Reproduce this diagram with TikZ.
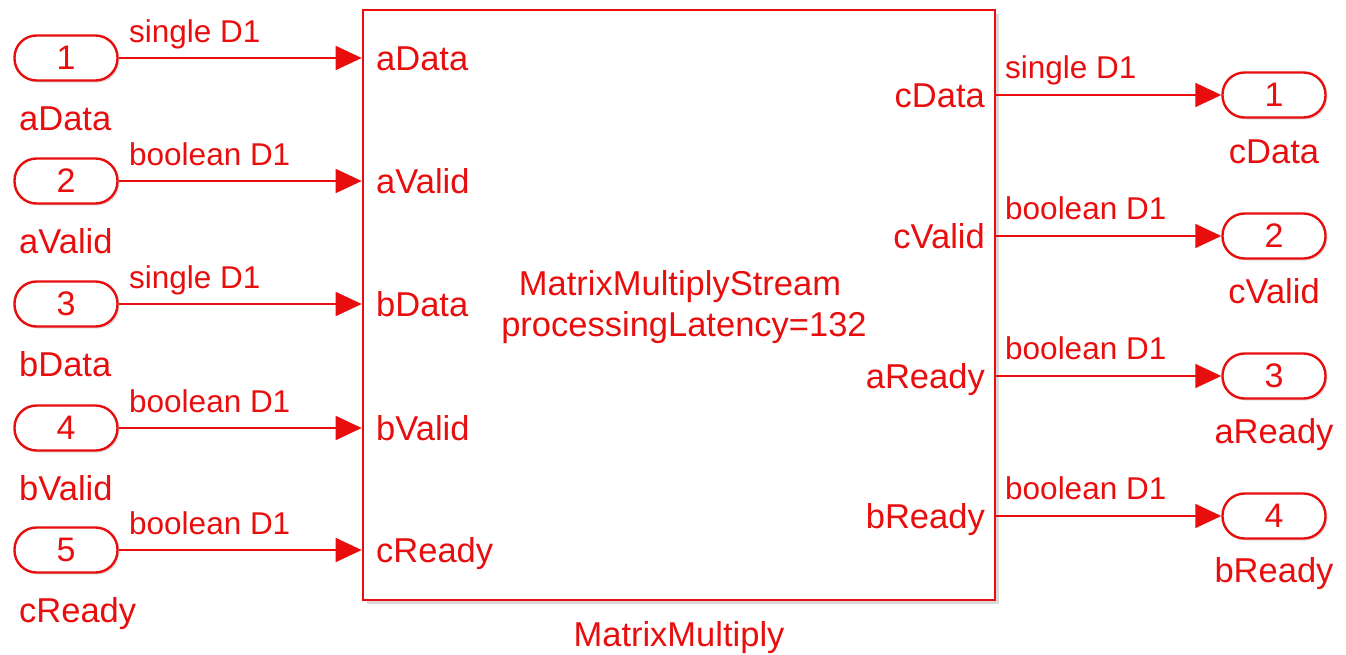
\documentclass[tikz,border=0pt]{standalone}
\usepackage{fontspec}
\setmainfont{Liberation Sans}
\usetikzlibrary{arrows.meta,shadows}
\definecolor{simred}{RGB}{232,14,14}

\tikzset{
  port/.style={draw=simred, line width=2.4pt, rounded corners=22pt, minimum width=103pt, minimum height=45pt,
    inner sep=0pt, text=simred, fill=white, font=\fontsize{34}{40}\selectfont,
    drop shadow={shadow xshift=2pt, shadow yshift=-2pt, opacity=0.25}},
  lbl/.style={text=simred, inner sep=0pt, font=\fontsize{34.5}{40}\selectfont},
  sig/.style={text=simred, inner sep=0pt, font=\fontsize{31.5}{36}\selectfont},
  wire/.style={draw=simred, line width=1.6pt, -{Triangle[length=26pt,width=24pt]}},
  blk/.style={draw=simred, line width=2.6pt, fill=white, minimum width=632pt, minimum height=590pt, inner sep=0pt,
    drop shadow={shadow xshift=4pt, shadow yshift=-4pt, opacity=0.3}}
}

\begin{document}
\begin{tikzpicture}[x=1pt,y=-1pt]
	\useasboundingbox (0,0) rectangle (1346,654);
	\node [blk] (mm) at (679,305) {};
	\node [lbl, anchor=base] (mmtitle) at (680,295) {MatrixMultiplyStream};
	\node [lbl, anchor=base] (mmlat) at (684,336) {processingLatency=132};
	\node [lbl, anchor=base] (mmname) at (679,646) {MatrixMultiply};
	% inputs
	\node [port] (in1) at (66,58) {1};
	\node [port] (in2) at (66,181) {2};
	\node [port] (in3) at (66,304) {3};
	\node [port] (in4) at (66,428) {4};
	\node [port] (in5) at (66,550) {5};
	\node [lbl, anchor=base west] (in1name) at (19,130) {aData};
	\node [lbl, anchor=base west] (in2name) at (19,253) {aValid};
	\node [lbl, anchor=base west] (in3name) at (19,376) {bData};
	\node [lbl, anchor=base west] (in4name) at (19,500) {bValid};
	\node [lbl, anchor=base west] (in5name) at (19,622) {cReady};
	\coordinate (pa) at (mm.west |- in1);
	\coordinate (pb) at (mm.west |- in2);
	\coordinate (pc) at (mm.west |- in3);
	\coordinate (pd) at (mm.west |- in4);
	\coordinate (pe) at (mm.west |- in5);
	\draw [wire] (in1.east) -- (pa);
	\draw [wire] (in2.east) -- (pb);
	\draw [wire] (in3.east) -- (pc);
	\draw [wire] (in4.east) -- (pd);
	\draw [wire] (in5.east) -- (pe);
	\node [sig, anchor=base west] at (129,42) {single D1};
	\node [sig, anchor=base west] at (129,165) {boolean D1};
	\node [sig, anchor=base west] at (129,288) {single D1};
	\node [sig, anchor=base west] at (129,412) {boolean D1};
	\node [sig, anchor=base west] at (129,534) {boolean D1};
	\node [lbl, anchor=base west] at (376,70) {aData};
	\node [lbl, anchor=base west] at (376,193) {aValid};
	\node [lbl, anchor=base west] at (376,316) {bData};
	\node [lbl, anchor=base west] at (376,440) {bValid};
	\node [lbl, anchor=base west] at (376,562) {cReady};
	% outputs
	\node [port] (out1) at (1274,95) {1};
	\node [port] (out2) at (1274,236) {2};
	\node [port] (out3) at (1274,376) {3};
	\node [port] (out4) at (1274,516) {4};
	\node [lbl, anchor=base] (out1name) at (1274,163) {cData};
	\node [lbl, anchor=base] (out2name) at (1274,303) {cValid};
	\node [lbl, anchor=base] (out3name) at (1274,443) {aReady};
	\node [lbl, anchor=base] (out4name) at (1274,582) {bReady};
	\coordinate (qa) at (mm.east |- out1);
	\coordinate (qb) at (mm.east |- out2);
	\coordinate (qc) at (mm.east |- out3);
	\coordinate (qd) at (mm.east |- out4);
	\draw [wire] (qa) -- (out1.west);
	\draw [wire] (qb) -- (out2.west);
	\draw [wire] (qc) -- (out3.west);
	\draw [wire] (qd) -- (out4.west);
	\node [sig, anchor=base west] at (1005,78) {single D1};
	\node [sig, anchor=base west] at (1005,219) {boolean D1};
	\node [sig, anchor=base west] at (1005,359) {boolean D1};
	\node [sig, anchor=base west] at (1005,499) {boolean D1};
	\node [lbl, anchor=base east] at (985,107) {cData};
	\node [lbl, anchor=base east] at (985,248) {cValid};
	\node [lbl, anchor=base east] at (985,388) {aReady};
	\node [lbl, anchor=base east] at (985,528) {bReady};
\end{tikzpicture}
\end{document}
